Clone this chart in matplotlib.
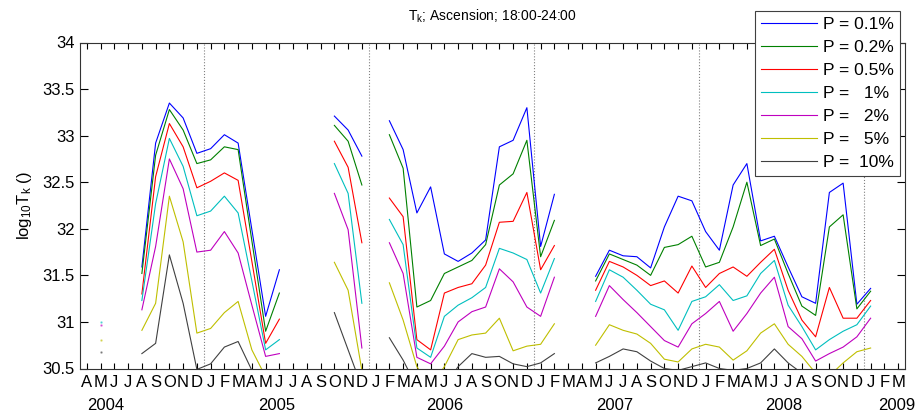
import numpy as np
import matplotlib
matplotlib.use('Agg')
import matplotlib.pyplot as plt
from matplotlib.ticker import FuncFormatter

plt.rcParams['font.family'] = ['Liberation Sans', 'DejaVu Sans']
plt.rcParams['mathtext.default'] = 'regular'

nan = np.nan

# month index 0 = Apr 2004 ... 59 = Mar 2009
months = ['A', 'M', 'J', 'J', 'A', 'S', 'O', 'N', 'D', 'J', 'F', 'M'] * 5
years = ['2004', '2005', '2006', '2007', '2008', '2009']
year_x = [1.4, 13.8, 26.0, 38.4, 50.7, 58.9]
year_breaks = [8.5, 20.5, 32.5, 44.5, 56.5]   # 1 Jan of each year

p01 = [nan, nan, nan, nan, 31.59, 32.92, 33.35, 33.19, 32.81, 32.86, 33.01, 32.92, 31.99, 31.06, 31.56,
       nan, nan, nan, 33.21, 33.06, 32.78, nan,
       33.16, 32.85, 32.17, 32.45, 31.73, 31.65, 31.74, 31.88, 32.88, 32.95, 33.30, 31.81, 32.37,
       nan, nan,
       31.49, 31.77, 31.71, 31.70, 31.58, 32.02, 32.35, 32.30, 31.97, 31.77, 32.47, 32.70, 31.87, 31.92,
       31.59, 31.27, 31.20, 32.39, 32.49, 31.19, 31.36, nan, nan]
p02 = [nan, nan, nan, nan, 31.52, 32.79, 33.28, 33.06, 32.70, 32.74, 32.88, 32.85, 31.87, 30.90, 31.31,
       nan, nan, nan, 33.11, 32.94, 32.47, nan,
       33.01, 32.65, 31.16, 31.23, 31.52, 31.59, 31.66, 31.83, 32.47, 32.59, 32.95, 31.70, 32.09,
       nan, nan,
       31.44, 31.73, 31.67, 31.61, 31.50, 31.80, 31.83, 31.92, 31.59, 31.64, 32.02, 32.50, 31.82, 31.89,
       31.52, 31.17, 31.07, 32.02, 32.15, 31.14, 31.33, nan, nan]
p05 = [nan, nan, nan, nan, 31.30, 32.56, 33.13, 32.88, 32.44, 32.51, 32.60, 32.52, 31.65, 30.77, 31.03,
       nan, nan, nan, 32.94, 32.66, 31.85, nan,
       32.33, 32.13, 30.81, 30.70, 31.31, 31.37, 31.41, 31.61, 32.07, 32.08, 32.39, 31.56, 31.82,
       nan, nan,
       31.34, 31.65, 31.59, 31.50, 31.39, 31.44, 31.31, 31.60, 31.37, 31.52, 31.59, 31.49, 31.64, 31.78,
       31.34, 31.02, 30.84, 31.37, 31.04, 31.04, 31.23, nan, nan]
p1 = [nan, 31.00, nan, nan, 31.23, 32.27, 32.97, 32.67, 32.14, 32.19, 32.35, 32.17, 31.44, 30.70, 30.81,
      nan, nan, nan, 32.70, 32.38, 31.20, nan,
      32.10, 31.83, 30.72, 30.62, 31.06, 31.18, 31.26, 31.37, 31.79, 31.74, 31.67, 31.31, 31.68,
      nan, nan,
      31.22, 31.56, 31.48, 31.34, 31.19, 31.13, 30.91, 31.22, 31.27, 31.40, 31.23, 31.28, 31.52, 31.66,
      31.18, 30.95, 30.70, 30.81, 30.90, 30.97, 31.17, nan, nan]
p2 = [nan, 30.97, nan, nan, 31.13, 31.81, 32.75, 32.43, 31.75, 31.77, 31.97, 31.74, 31.18, 30.63, 30.66,
      nan, nan, nan, 32.38, 31.99, 30.72, nan,
      31.85, 31.52, 30.62, 30.55, 30.74, 31.00, 31.11, 31.16, 31.57, 31.43, 31.16, 31.06, 31.48,
      nan, nan,
      31.06, 31.39, 31.24, 31.10, 30.95, 30.80, 30.73, 30.98, 31.09, 31.22, 30.90, 31.09, 31.31, 31.48,
      30.95, 30.82, 30.58, 30.66, 30.73, 30.84, 31.04, nan, nan]
p5 = [nan, 30.81, nan, nan, 30.91, 31.20, 32.35, 31.86, 30.88, 30.93, 31.10, 31.22, 30.70, 30.41, 30.35,
      nan, nan, nan, 31.64, 31.34, 30.48, nan,
      31.42, 31.02, 30.52, 30.30, 30.52, 30.81, 30.86, 30.88, 31.04, 30.69, 30.74, 30.76, 30.98,
      nan, nan,
      30.75, 30.97, 30.91, 30.87, 30.77, 30.60, 30.57, 30.71, 30.76, 30.73, 30.59, 30.69, 30.88, 30.98,
      30.76, 30.63, 30.45, 30.42, 30.56, 30.68, 30.72, nan, nan]
p10 = [nan, 30.68, nan, nan, 30.66, 30.77, 31.72, 31.20, 30.49, 30.55, 30.73, 30.79, 30.48, 30.30, 30.25,
       nan, nan, nan, 31.10, 30.70, 30.30, nan,
       30.83, 30.59, 30.30, 30.20, 30.30, 30.52, 30.66, 30.62, 30.63, 30.55, 30.52, 30.56, 30.66,
       nan, nan,
       30.56, 30.63, 30.71, 30.68, 30.58, 30.50, 30.48, 30.52, 30.56, 30.50, 30.48, 30.50, 30.56, 30.71,
       30.56, 30.45, 30.35, 30.35, 30.40, 30.45, 30.45, nan, nan]

labels = ['P = 0.1%', 'P = 0.2%', 'P = 0.5%', 'P =   1%', 'P =   2%', 'P =   5%', 'P =  10%']
colors = ['#0000ff', '#008000', '#ff0000', '#00bfbf', '#bf00bf', '#bfbf00', '#404040']
series = [p01, p02, p05, p1, p2, p5, p10]

x = np.arange(len(months))

fig = plt.figure(figsize=(9.19, 4.18), dpi=100)
ax = fig.add_axes([80 / 919, 49.5 / 418, 825 / 919, 326 / 418])

for yb in year_breaks:
    ax.axvline(yb, color='#808080', ls=':', lw=0.8, zorder=1)

for s, c, lab in zip(series, colors, labels):
    y = np.array(s, dtype=float)
    ax.plot(x, y, color=c, lw=0.8, label=lab, zorder=2)
    # isolated single months
    ok = np.isfinite(y)
    prev = np.r_[False, ok[:-1]]
    nxt = np.r_[ok[1:], False]
    iso = ok & ~prev & ~nxt
    ax.plot(x[iso], y[iso], ls='none', marker='.', ms=1.5, color=c, alpha=0.5)

ax.set_xlim(-0.5, 59.5)
ax.set_ylim(30.5, 34)
ax.set_xticks(x)
ax.set_xticklabels(months, fontsize=12)
ax.set_yticks(np.arange(30.5, 34.01, 0.5))
ax.yaxis.set_major_formatter(FuncFormatter(lambda v, p: '%g' % v))
ax.tick_params(axis='y', labelsize=12, direction='in', length=6, right=True, pad=4)
ax.tick_params(axis='x', direction='in', length=4.5, top=True, pad=5)
for sp in ax.spines.values():
    sp.set_linewidth(0.8)
    sp.set_color('#333333')

for yr, xp in zip(years, year_x):
    ax.text(xp, -0.115, yr, transform=ax.get_xaxis_transform(), ha='center', va='center', fontsize=12)

ax.set_ylabel(r'log$_{10}$T$_k$ ()', fontsize=12, labelpad=6)
ax.set_title(r'T$_k$; Ascension; 18:00-24:00', fontsize=10, pad=16)

leg = ax.legend(loc='upper right', bbox_to_anchor=(900 / 919, 1 - 10.7 / 418),
                bbox_transform=fig.transFigure, borderaxespad=0, fontsize=12.5,
                handlelength=3.2, handletextpad=0.35, labelspacing=0.45, borderpad=0.37,
                fancybox=False, framealpha=1, edgecolor='#404040')
leg.get_frame().set_linewidth(0.8)

fig.savefig('out.png', dpi=100)
